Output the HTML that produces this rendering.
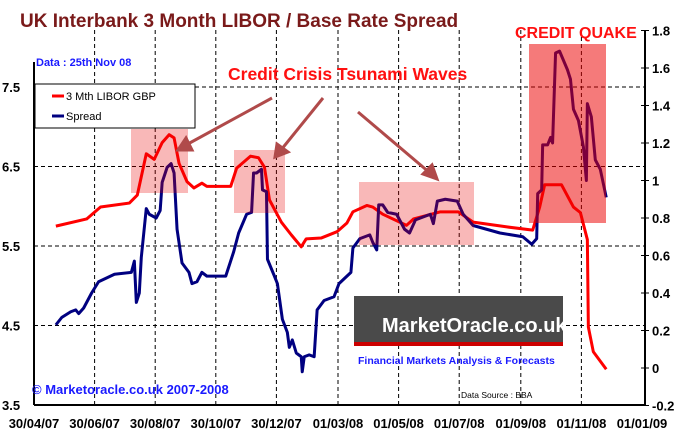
<!DOCTYPE html>
<html><head><meta charset="utf-8"><style>
body{margin:0;background:#fff;}
svg{display:block;font-family:"Liberation Sans",sans-serif;font-weight:bold;}
</style></head><body>
<svg id="chart" width="684" height="444" viewBox="0 0 684 444">
<rect width="684" height="444" fill="#fff"/>
<text x="20" y="27" font-size="19" fill="#7a1a1a">UK Interbank  3 Month LIBOR / Base Rate Spread</text>
<g id="grid" stroke="#000" stroke-width="1" stroke-dasharray="4,3"></g>
<g id="marks"></g>
<rect x="529" y="44" width="77" height="179" fill="rgb(235,0,0)" fill-opacity="0.52"/>
<rect x="131" y="129" width="57" height="64" fill="rgb(235,0,0)" fill-opacity="0.28"/>
<rect x="234" y="150" width="51" height="63" fill="rgb(235,0,0)" fill-opacity="0.28"/>
<rect x="359" y="182" width="115" height="63" fill="rgb(235,0,0)" fill-opacity="0.28"/>
<line x1="34" y1="62" x2="34" y2="405" stroke="#000" stroke-width="2"/>
<line x1="645" y1="30" x2="645" y2="405" stroke="#000" stroke-width="2"/>
<line x1="34" y1="405" x2="645" y2="405" stroke="#000" stroke-width="2"/>
<g id="ticks" font-size="13"></g>
<text x="36" y="66" font-size="11" fill="#1a1aff">Data : 25th Nov 08</text>
<text x="228" y="80" font-size="17.5" fill="#ff1010">Credit Crisis  Tsunami Waves</text>
<text x="515" y="38" font-size="16" fill="#ff1010">CREDIT QUAKE</text>
<g stroke="#b04a4a" stroke-width="3" fill="#b04a4a">
<line x1="272" y1="98" x2="186" y2="145"/><polygon points="178,150 186,138 192,150"/>
<line x1="323" y1="98" x2="281" y2="150"/><polygon points="275,157 277,144 288,152"/>
<line x1="358" y1="112" x2="430" y2="173"/><polygon points="437,179 423,174 432,165"/>
</g>
<g>
<rect x="35" y="84" width="160" height="44" fill="#fff" stroke="#000"/>
<line x1="52" y1="96" x2="64" y2="96" stroke="#f00" stroke-width="3"/>
<text x="66" y="100" font-size="11" font-weight="normal">3 Mth LIBOR  GBP</text>
<line x1="52" y1="116" x2="64" y2="116" stroke="#000080" stroke-width="3"/>
<text x="66" y="120" font-size="11" font-weight="normal">Spread</text>
</g>
<g>
<rect x="354" y="296" width="209" height="50" fill="#4a4a4a"/>
<rect x="354" y="342" width="209" height="4" fill="#c00"/>
<text x="382" y="332" font-size="20" fill="#fff">MarketOracle.co.uk</text>
<text x="358" y="364" font-size="10.5" fill="#1a1aff">Financial Markets Analysis &amp; Forecasts</text>
</g>
<text x="32" y="394" font-size="13" fill="#1a1aff">© Marketoracle.co.uk 2007-2008</text>
<text x="461" y="398" font-size="8.5" font-weight="normal">Data Source : BBA</text>
</svg>
<script>
const xLabels=["30/04/07","30/06/07","30/08/07","30/10/07","30/12/07","01/03/08","01/05/08","01/07/08","01/09/08","01/11/08","01/01/09"];
const xLabelDays=[0,61,122,183,244,306,367,428,490,551,612];
const leftTicks=[3.5,4.5,5.5,6.5,7.5];
const rightTicks=[-0.2,0,0.2,0.4,0.6,0.8,1,1.2,1.4,1.6,1.8];
const liborDays=[22,53,67,96,104,113,121,129,136,141,146,154,161,169,174,198,204,218,226,232,237,249,259,269,274,289,305,315,321,335,341,351,375,382,409,427,442,476,502,509,514,531,543,550,557,558,563,576];
const liborValues=[5.75,5.84,5.99,6.04,6.14,6.66,6.59,6.80,6.90,6.86,6.54,6.31,6.23,6.29,6.25,6.25,6.48,6.63,6.61,6.49,6.08,5.80,5.64,5.49,5.59,5.60,5.68,5.79,5.93,6.01,5.99,5.90,5.76,5.84,5.93,5.93,5.80,5.74,5.70,5.99,6.27,6.27,5.99,5.92,5.58,4.48,4.17,3.95];
const spreadDays=[22,28,37,42,45,50,58,65,81,98,101,103,106,108,113,116,123,127,129,134,138,141,144,149,156,159,164,169,174,193,201,206,214,219,221,224,229,230,234,235,242,245,250,255,257,260,264,269,270,272,277,282,285,292,302,307,319,321,328,338,341,345,347,351,356,365,373,378,384,399,402,406,414,426,432,442,469,492,501,506,507,511,512,517,520,522,525,529,537,540,543,548,553,556,557,561,565,570,576];
const spreadValues=[0.23,0.27,0.30,0.31,0.29,0.32,0.40,0.46,0.50,0.51,0.57,0.35,0.40,0.59,0.85,0.82,0.80,0.84,0.99,1.07,1.09,1.04,0.74,0.56,0.51,0.45,0.46,0.51,0.49,0.49,0.62,0.72,0.82,0.83,1.04,1.04,1.06,0.95,0.94,0.58,0.49,0.45,0.26,0.19,0.11,0.15,0.08,0.06,-0.02,0.06,0.07,0.06,0.31,0.36,0.38,0.45,0.51,0.64,0.69,0.71,0.67,0.63,0.87,0.87,0.83,0.82,0.74,0.72,0.79,0.82,0.77,0.89,0.90,0.89,0.82,0.76,0.72,0.70,0.66,0.69,0.93,0.95,1.19,1.19,1.23,1.20,1.68,1.69,1.59,1.54,1.38,1.32,1.18,1.00,1.41,1.34,1.11,1.06,0.91];
const X=d=>34+d*(608/612);
const YL=v=>405-(v-3.5)*79.5;
const YR=v=>368-v*187.5;
const NS="http://www.w3.org/2000/svg";
const grid=document.getElementById('grid'),ticks=document.getElementById('ticks'),marks=document.getElementById('marks');
function mk(tag,attrs,parent){const e=document.createElementNS(NS,tag);for(const k in attrs)e.setAttribute(k,attrs[k]);parent.appendChild(e);return e;}
xLabelDays.forEach((d,i)=>{
  if(i>0&&i<xLabelDays.length-1){const g=mk('line',{x1:X(d),x2:X(d),y1:30,y2:405},grid);
  
  }
  const t=mk('text',{x:X(d),y:428,'text-anchor':'middle'},ticks);t.textContent=xLabels[i];
  
  
});
leftTicks.forEach(v=>{
  if(v>3.5){const g=mk('line',{x1:34,x2:645,y1:YL(v),y2:YL(v)},grid);
  
  }
  const t=mk('text',{x:2,y:YL(v)+5},ticks);t.textContent=v.toFixed(1);
  
  
});
rightTicks.forEach(v=>{
  mk('line',{x1:641,x2:649,y1:YR(v),y2:YR(v),stroke:'#000'},ticks);
  const t=mk('text',{x:652,y:YR(v)+5},ticks);t.textContent=(Math.round(v*10)/10).toString();
  
  
});
const lib=mk('polyline',{points:liborDays.map((d,i)=>X(d)+','+YL(liborValues[i])).join(' '),fill:'none',stroke:'#ff0000','stroke-width':3,'stroke-linejoin':'round'},marks);


const spr=mk('polyline',{points:spreadDays.map((d,i)=>X(d)+','+YR(spreadValues[i])).join(' '),fill:'none',stroke:'#000080','stroke-width':3,'stroke-linejoin':'round'},marks);


</script>
</body></html>
